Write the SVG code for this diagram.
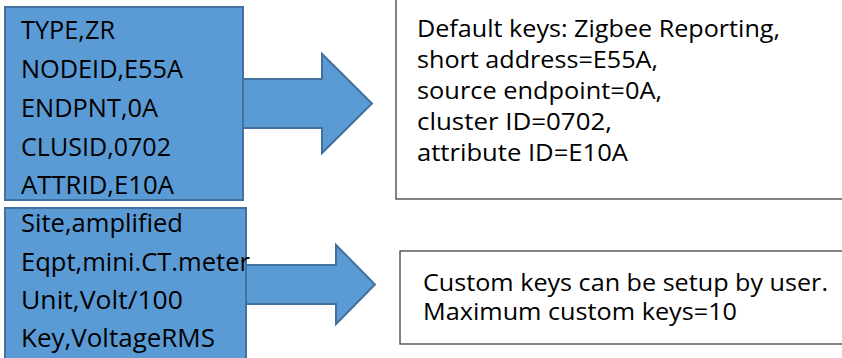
<svg xmlns="http://www.w3.org/2000/svg" width="842" height="358" viewBox="0 0 842 358">
<style>
.blue{fill:#5B9BD5;stroke:#41719C;stroke-width:2}
.note{fill:#FFFFFF;stroke:#404040;stroke-width:1.3}
.t{font-family:"Open Sans","Liberation Sans",sans-serif;fill:#000000}
.l{font-size:25px}
.r{font-size:23px}
</style>
<rect width="842" height="358" fill="#FFFFFF"/>
<g id="connectors">
<polygon class="blue" points="243,79 322,79 322,54 372,103.5 322,153 322,128 243,128"/>
<polygon class="blue" points="245,265 336,265 336,245 375,284.5 336,324 336,304 245,304"/>
</g>
<g id="default-keys-source">
<rect class="blue" x="5" y="7" width="238" height="193"/>
<text class="t l" x="21" y="39" textLength="94" lengthAdjust="spacingAndGlyphs">TYPE,ZR</text>
<text class="t l" x="21" y="78" textLength="162" lengthAdjust="spacingAndGlyphs">NODEID,E55A</text>
<text class="t l" x="21" y="117" textLength="137" lengthAdjust="spacingAndGlyphs">ENDPNT,0A</text>
<text class="t l" x="21" y="155.5" textLength="150" lengthAdjust="spacingAndGlyphs">CLUSID,0702</text>
<text class="t l" x="21" y="194" textLength="153" lengthAdjust="spacingAndGlyphs">ATTRID,E10A</text>
</g>
<g id="custom-keys-source">
<rect class="blue" x="5" y="208" width="241" height="156"/>
<text class="t l" x="21" y="232" textLength="162" lengthAdjust="spacingAndGlyphs">Site,amplified</text>
<text class="t l" x="21" y="271" textLength="229" lengthAdjust="spacingAndGlyphs">Eqpt,mini.CT.meter</text>
<text class="t l" x="21" y="309" textLength="162" lengthAdjust="spacingAndGlyphs">Unit,Volt/100</text>
<text class="t l" x="21" y="347" textLength="194" lengthAdjust="spacingAndGlyphs">Key,VoltageRMS</text>
</g>
<g id="default-keys-note">
<rect class="note" x="396" y="-3" width="460" height="202"/>
<text class="t r" x="417" y="36.5" textLength="363" lengthAdjust="spacingAndGlyphs">Default keys: Zigbee Reporting,</text>
<text class="t r" x="417" y="68" textLength="241" lengthAdjust="spacingAndGlyphs">short address=E55A,</text>
<text class="t r" x="417" y="99" textLength="245" lengthAdjust="spacingAndGlyphs">source endpoint=0A,</text>
<text class="t r" x="417" y="130" textLength="195" lengthAdjust="spacingAndGlyphs">cluster ID=0702,</text>
<text class="t r" x="417" y="160.5" textLength="211" lengthAdjust="spacingAndGlyphs">attribute ID=E10A</text>
</g>
<g id="custom-keys-note">
<rect class="note" x="400" y="251" width="460" height="93"/>
<text class="t r" x="423" y="291" textLength="405" lengthAdjust="spacingAndGlyphs">Custom keys can be setup by user.</text>
<text class="t r" x="423" y="320" textLength="314" lengthAdjust="spacingAndGlyphs">Maximum custom keys=10</text>
</g>
</svg>
